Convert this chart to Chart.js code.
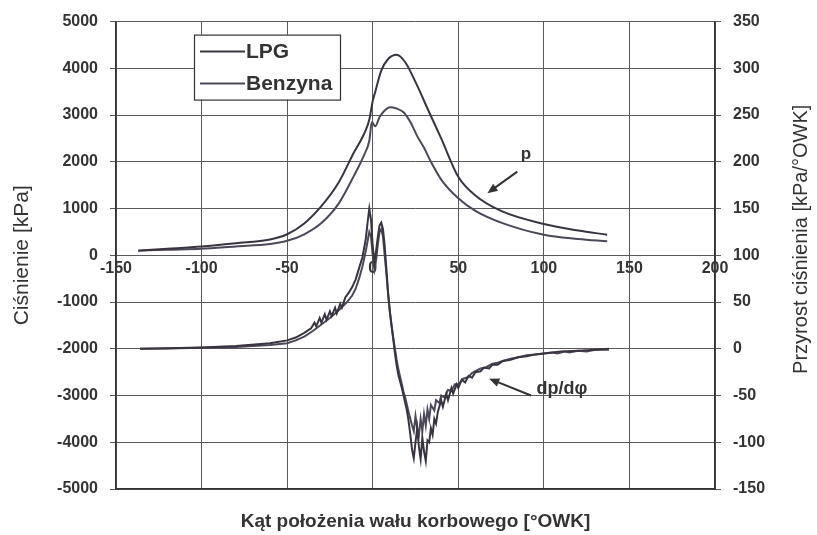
<!DOCTYPE html>
<html>
<head>
<meta charset="utf-8">
<script src="https://cdn.jsdelivr.net/npm/chart.js@4.4.0/dist/chart.umd.min.js"></script>
<style>
  html, body { margin: 0; padding: 0; background: #ffffff; }
  #wrap { width: 817px; height: 535px; }
</style>
</head>
<body>
<div id="wrap"><canvas id="chart" width="817" height="535"></canvas></div>
<script>
// ── Data ────────────────────────────────────────────────────────
var fuelNames = ['LPG', 'Benzyna'];
var angleTicks = [-150, -100, -50, 0, 50, 100, 150, 200];

// pressure p [kPa] vs crank angle [deg]
var pLpgAngle = [-137, -120, -100, -80, -60, -50, -40, -30, -20, -11, -5, -2, 0, 1.5, 5, 9, 14, 19, 26, 32, 40, 50, 60, 75, 100, 120, 137];
var pLpgValue = [100, 140, 190, 260, 340, 450, 680, 1050, 1550, 2200, 2600, 2900, 3300, 3500, 3950, 4200, 4290, 4130, 3630, 3140, 2500, 1680, 1280, 950, 670, 530, 440];

var pBenAngle = [-137, -120, -100, -80, -60, -50, -40, -30, -20, -11, -5, -2, -0.5, 1.5, 4, 7, 10, 14, 18, 22, 26, 30, 34, 40, 50, 60, 75, 100, 120, 137];
var pBenValue = [100, 120, 140, 190, 240, 310, 450, 690, 1100, 1700, 2150, 2450, 2850, 2760, 2960, 3100, 3170, 3140, 3060, 2850, 2550, 2300, 2000, 1620, 1220, 950, 700, 440, 350, 300];

// pressure rise dp/dphi [kPa/deg] vs crank angle [deg]
var dLpgAngle = [-136, -120, -100, -80, -60, -50, -45, -40, -36, -34, -33, -31, -30, -28, -27, -25, -24, -22, -21, -19, -18, -16, -14, -12, -10, -8, -6, -4, -3, -2, -1, 0, 1, 2, 3, 4, 5, 6, 7, 8, 9, 10, 11, 12, 13, 14, 15, 16, 17, 18, 19, 20, 21, 22, 23, 24, 25, 26, 27, 28, 29, 30, 31, 32, 33, 34, 35, 36, 37, 38, 40, 41, 43, 44, 46, 47, 49, 50, 52, 54, 56, 58, 60, 63, 65, 68, 70, 73, 76, 80, 85, 90, 95, 100, 110, 120, 130, 138];
var dLpgValue = [0, 0.5, 1.5, 3, 6, 9, 12, 17, 22, 28, 24, 33, 28, 37, 31, 40, 35, 44, 38, 48, 44, 55, 60, 66, 74, 86, 98, 118, 135, 150, 138, 110, 92, 105, 120, 132, 135, 128, 110, 85, 60, 40, 25, 10, -5, -18, -28, -35, -42, -50, -58, -66, -78, -92, -108, -117, -100, -85, -105, -118, -95, -110, -120, -98, -100, -85, -92, -75, -80, -68, -55, -62, -48, -55, -42, -48, -38, -42, -33, -36, -29, -31, -25, -24, -20, -21, -17, -17, -13, -12, -9, -8, -6, -5, -3, -2, -1, 0];

var dBenAngle = [-136, -120, -100, -80, -60, -50, -45, -40, -35, -30, -25, -20, -15, -12, -10, -8, -6, -4, -3, -2, -1, 0, 1, 2, 3, 4, 5, 6, 7, 8, 9, 10, 11, 12, 13, 14, 15, 16, 17, 18, 19, 20, 21, 22, 23, 24, 25, 26, 27, 28, 29, 30, 31, 32, 33, 34, 36, 37, 39, 40, 42, 44, 46, 48, 50, 53, 56, 58, 60, 63, 66, 70, 73, 76, 80, 85, 90, 95, 100, 105, 108, 112, 115, 120, 125, 130, 138];
var dBenValue = [0, 0.3, 1, 2, 4, 6, 9, 13, 19, 26, 33, 41, 50, 57, 64, 75, 88, 105, 115, 125, 120, 100, 85, 95, 112, 125, 128, 120, 100, 80, 58, 40, 25, 12, 0, -12, -22, -30, -38, -46, -52, -60, -68, -75, -82, -88, -72, -85, -92, -75, -88, -70, -82, -65, -75, -60, -66, -55, -58, -50, -52, -44, -45, -38, -38, -32, -30, -26, -24, -21, -20, -16, -15, -13, -11, -9, -7, -6, -5, -4, -5, -3, -4, -2, -3, -1, -1];

var lineColors = ['#3a3440', '#4d4858'];
var FONT = '"Liberation Sans", Arial, sans-serif';
var TEXT = '#333333';

function pts(xs, ys) {
    return xs.map(function (x, i) { return { x: x, y: ys[i] }; });
}
function plain(v) { return String(v); }

// ── Extra drawing: x labels on the zero line, legend, notes ─────
var overlayPlugin = {
    id: 'overlay',
    beforeDatasetsDraw: function (chart) {
        var ctx = chart.ctx, xs = chart.scales.x, ys = chart.scales.y;
        ctx.save();
        ctx.font = 'bold 16px ' + FONT;
        ctx.fillStyle = TEXT;
        ctx.textAlign = 'center';
        ctx.textBaseline = 'top';
        var yLab = ys.getPixelForValue(0) + 5;
        angleTicks.forEach(function (t) {
            ctx.fillText(String(t), xs.getPixelForValue(t), yLab);
        });
        ctx.restore();
    },
    afterDraw: function (chart) {
        var ctx = chart.ctx, area = chart.chartArea;
        var xs = chart.scales.x, ys = chart.scales.y, y2 = chart.scales.y2;
        ctx.save();

        // right axis title, reading bottom to top
        ctx.font = '20px ' + FONT;
        ctx.fillStyle = TEXT;
        ctx.textAlign = 'center';
        ctx.textBaseline = 'middle';
        ctx.translate(801, (area.top + area.bottom) / 2 - 16);
        ctx.rotate(-Math.PI / 2);
        ctx.fillText('Przyrost ciśnienia [kPa/°OWK]', 0, 0);
        ctx.setTransform(1, 0, 0, 1, 0, 0);

        // legend box
        var lx = area.left + 78, ly = area.top + 13, lw = 146, lh = 65;
        ctx.fillStyle = '#ffffff';
        ctx.fillRect(lx, ly, lw, lh);
        ctx.strokeStyle = '#333333';
        ctx.lineWidth = 1.2;
        ctx.strokeRect(lx + 0.5, ly + 0.5, lw, lh);
        ctx.font = 'bold 21px ' + FONT;
        ctx.textAlign = 'left';
        fuelNames.forEach(function (name, i) {
            var yy = ly + 17 + i * 32;
            ctx.strokeStyle = lineColors[i];
            ctx.lineWidth = 2;
            ctx.beginPath();
            ctx.moveTo(lx + 6, yy);
            ctx.lineTo(lx + 51, yy);
            ctx.stroke();
            ctx.fillStyle = TEXT;
            ctx.fillText(name, lx + 52, yy + 1);
        });

        // notes with arrows (placed in data units)
        function arrow(x1, y1, x2, y2) {
            var a = Math.atan2(y2 - y1, x2 - x1);
            ctx.strokeStyle = '#333333';
            ctx.fillStyle = '#333333';
            ctx.lineWidth = 2;
            ctx.beginPath();
            ctx.moveTo(x1, y1);
            ctx.lineTo(x2 - 6 * Math.cos(a), y2 - 6 * Math.sin(a));
            ctx.stroke();
            ctx.beginPath();
            ctx.moveTo(x2, y2);
            ctx.lineTo(x2 - 11 * Math.cos(a - 0.4), y2 - 11 * Math.sin(a - 0.4));
            ctx.lineTo(x2 - 11 * Math.cos(a + 0.4), y2 - 11 * Math.sin(a + 0.4));
            ctx.closePath();
            ctx.fill();
        }
        ctx.font = 'bold 17px ' + FONT;
        ctx.fillStyle = TEXT;
        ctx.textAlign = 'center';
        ctx.fillText('p', xs.getPixelForValue(89.5), ys.getPixelForValue(2150));
        arrow(xs.getPixelForValue(84.5), ys.getPixelForValue(1790),
              xs.getPixelForValue(67), ys.getPixelForValue(1330));
        ctx.font = 'bold 18px ' + FONT;
        ctx.fillStyle = TEXT;
        ctx.fillText('dp/dφ', xs.getPixelForValue(110.5), y2.getPixelForValue(-43));
        arrow(xs.getPixelForValue(92.5), y2.getPixelForValue(-50),
              xs.getPixelForValue(68), y2.getPixelForValue(-32));
        ctx.restore();
    }
};

// ── Chart ───────────────────────────────────────────────────────
new Chart(document.getElementById('chart'), {
    type: 'line',
    data: {
        datasets: [
            { label: 'p LPG', data: pts(pLpgAngle, pLpgValue), yAxisID: 'y', borderColor: lineColors[0], cubicInterpolationMode: 'monotone' },
            { label: 'p Benzyna', data: pts(pBenAngle, pBenValue), yAxisID: 'y', borderColor: lineColors[1], cubicInterpolationMode: 'monotone' },
            { label: 'dp LPG', data: pts(dLpgAngle, dLpgValue), yAxisID: 'y2', borderColor: lineColors[0], tension: 0 },
            { label: 'dp Benzyna', data: pts(dBenAngle, dBenValue), yAxisID: 'y2', borderColor: lineColors[1], tension: 0 }
        ]
    },
    options: {
        responsive: false,
        animation: false,
        events: [],
        layout: { padding: { top: 19, left: 0, right: 0, bottom: 0 } },
        elements: {
            line: { borderWidth: 2, fill: false },
            point: { radius: 0 }
        },
        plugins: { legend: { display: false }, tooltip: { enabled: false } },
        scales: {
            x: {
                type: 'linear', min: -150, max: 200,
                ticks: { display: false, stepSize: 50 },
                grid: { color: '#5a5a5a', lineWidth: 1, drawTicks: false },
                border: { color: '#333333', width: 1.5 },
                title: {
                    display: true, text: 'Kąt położenia wału korbowego [°OWK]',
                    color: TEXT, font: { family: FONT, size: 19, weight: 'bold' },
                    padding: { top: 0, bottom: 2 }
                },
                afterFit: function (s) { s.height = 46; }
            },
            y: {
                position: 'left', min: -5000, max: 5000,
                ticks: { stepSize: 1000, color: TEXT, padding: 12, callback: plain, font: { family: FONT, size: 16, weight: 'bold' } },
                grid: { color: '#5a5a5a', lineWidth: 1, tickLength: 6 },
                border: { color: '#333333', width: 1.5 },
                title: {
                    display: true, text: 'Ciśnienie [kPa]',
                    color: TEXT, font: { family: FONT, size: 21 },
                    padding: { top: 10, bottom: 0 }
                },
                afterFit: function (s) { s.width = 116; }
            },
            y2: {
                position: 'right', min: -150, max: 350,
                ticks: { stepSize: 50, color: TEXT, padding: 12, callback: plain, font: { family: FONT, size: 16, weight: 'bold' } },
                grid: { drawOnChartArea: false, color: '#5a5a5a', tickLength: 6 },
                border: { color: '#333333', width: 1.5 },
                afterFit: function (s) { s.width = 102; }
            }
        }
    },
    plugins: [overlayPlugin]
});
</script>
</body>
</html>
